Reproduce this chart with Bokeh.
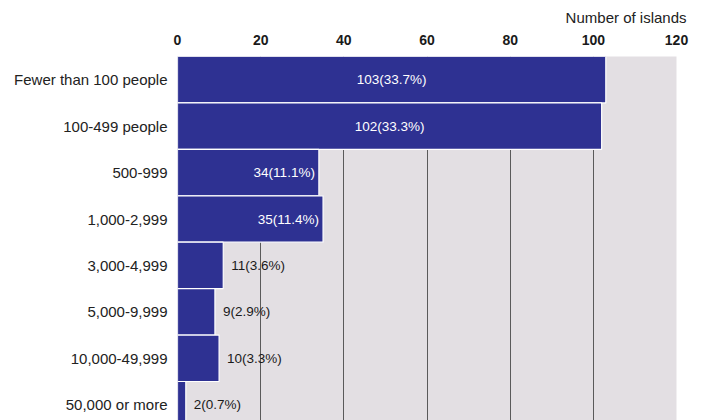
from bokeh.plotting import figure
from bokeh.models import Range1d, FixedTicker, ColumnDataSource, Title
from bokeh.embed import file_html
from bokeh.resources import INLINE
from bokeh.core.properties import value

categories = ["Fewer than 100 people", "100-499 people", "500-999", "1,000-2,999",
              "3,000-4,999", "5,000-9,999", "10,000-49,999", "50,000 or more"]
counts = [103, 102, 34, 35, 11, 9, 10, 2]
shares = [33.7, 33.3, 11.1, 11.4, 3.6, 2.9, 3.3, 0.7]
x_ticks = [0, 20, 40, 60, 80, 100, 120]
x_title = "Number of islands"

FONT = "Liberation Sans"
BAR = "#2e3192"
BG = "#e3dfe3"

pos = list(range(len(categories)))
labels = [f"{c}({s}%)" for c, s in zip(counts, shares)]

p = figure(width=702, height=420, output_backend="svg", toolbar_location=None,
           x_range=Range1d(0, 120), y_range=Range1d(7.34, -0.5),
           x_axis_location="above",
           min_border_left=177, min_border_right=26, min_border_bottom=0, min_border_top=1)

p.background_fill_color = BG
p.border_fill_color = "white"
p.outline_line_color = None

p.add_layout(Title(text=x_title, align="right", offset=-10, standoff=12,
                   text_font=FONT, text_font_size="15px", text_font_style="normal",
                   text_color="#222222"), "above")

src = ColumnDataSource(dict(y=pos, v=counts, lab=labels))
p.hbar(y="y", left=0, right="v", height=1.0, source=src,
       fill_color=BAR, line_color="white", line_width=1.2)

big = [i for i in pos if counts[i] > 50]
mid = [i for i in pos if 20 < counts[i] <= 50]
small = [i for i in pos if counts[i] <= 20]

LBL = "13.5px"
p.text(x=[counts[i] / 2 for i in big], y=big, text=[labels[i] for i in big],
       text_font=value(FONT), text_font_size=LBL, text_color="white",
       text_align="center", text_baseline="middle")
p.text(x=[counts[i] for i in mid], y=mid, text=[labels[i] for i in mid],
       text_font=value(FONT), text_font_size=LBL, text_color="white",
       text_align="right", text_baseline="middle", x_offset=-4)
p.text(x=[counts[i] for i in small], y=small, text=[labels[i] for i in small],
       text_font=value(FONT), text_font_size=LBL, text_color="#1a1a1a",
       text_align="left", text_baseline="middle", x_offset=8)

p.xaxis.ticker = FixedTicker(ticks=x_ticks)
p.xaxis.axis_line_color = None
p.xaxis.major_tick_line_color = None
p.xaxis.minor_tick_line_color = None
p.xaxis.major_label_text_font = FONT
p.xaxis.major_label_text_font_size = "14px"
p.xaxis.major_label_text_font_style = "bold"
p.xaxis.major_label_text_color = "#1a1a1a"
p.xaxis.major_label_standoff = 6

p.yaxis.ticker = FixedTicker(ticks=pos)
p.yaxis.major_label_overrides = {i: c for i, c in zip(pos, categories)}
p.yaxis.axis_line_color = None
p.yaxis.major_tick_line_color = None
p.yaxis.minor_tick_line_color = None
p.yaxis.major_label_text_font = FONT
p.yaxis.major_label_text_font_size = "15px"
p.yaxis.major_label_text_color = "#222222"
p.yaxis.major_label_standoff = 4

p.xgrid.ticker = FixedTicker(ticks=x_ticks[1:])
p.xgrid.grid_line_color = "#5a5a5a"
p.xgrid.grid_line_width = 1
p.ygrid.grid_line_color = None

open("out.html", "w").write(file_html(p, INLINE))
